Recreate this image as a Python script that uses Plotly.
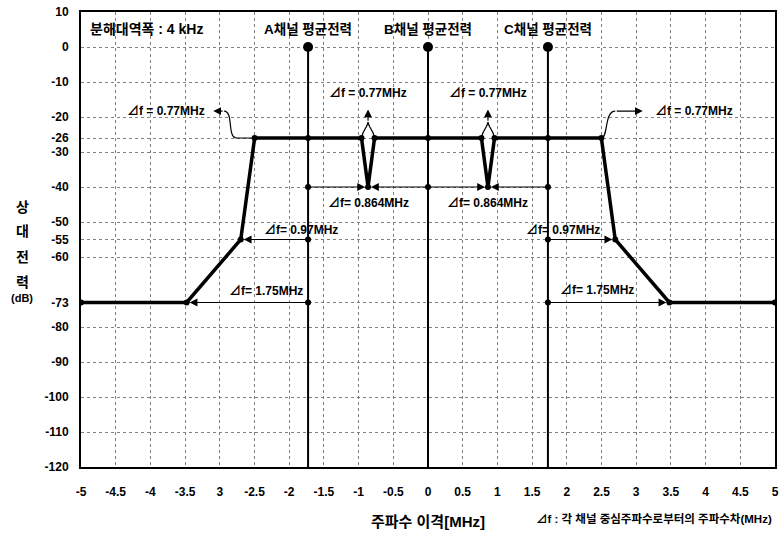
import plotly.graph_objects as go

# Channel centre frequencies, offset from channel B (MHz)
channel_names = ["A", "B", "C"]
channel_centres = [-1.728, 0.0, 1.728]
channel_power_db = 0

# Mask levels, dB relative to the channel mean power
plateau_db = -26
notch_db = -40
shoulder_db = -55
floor_db = -73

# Frequency differences from each channel centre (MHz)
df_edge = 0.77
df_shoulder = 0.97
df_floor = 1.75
df_notch = 0.864

x_span = [-5, 5]
y_span = [-120, 10]
x_ticks = [-5, -4.5, -4, -3.5, -3, -2.5, -2, -1.5, -1, -0.5, 0,
           0.5, 1, 1.5, 2, 2.5, 3, 3.5, 4, 4.5, 5]
x_ticktext = ["-5", "-4.5", "-4", "-3.5", "3", "-2.5", "-2", "-1.5", "-1", "-0.5", "0",
              "0.5", "1", "1.5", "2", "2.5", "3", "3.5", "4", "4.5", "5"]
y_ticks = [10, 0, -10, -20, -26, -30, -40, -50, -55, -60, -73, -80, -90, -100, -110, -120]

FONT = "Liberation Sans, Noto Sans CJK KR, sans-serif"
A, B, C = channel_centres

# Spectrum emission mask polyline
mask_x = [x_span[0], A - df_floor, A - df_shoulder, A - df_edge,
          A + df_edge, A + df_notch, B - df_edge,
          B + df_edge, B + df_notch, C - df_edge,
          C + df_edge, C + df_shoulder, C + df_floor, x_span[1]]
mask_y = [floor_db, floor_db, shoulder_db, plateau_db,
          plateau_db, notch_db, plateau_db,
          plateau_db, notch_db, plateau_db,
          plateau_db, shoulder_db, floor_db, floor_db]

fig = go.Figure()

# channel mean-power stems
for c in channel_centres:
    fig.add_trace(go.Scatter(x=[c, c], y=[y_span[0], channel_power_db], mode="lines",
                             line=dict(color="black", width=2), hoverinfo="skip"))
fig.add_trace(go.Scatter(x=channel_centres, y=[channel_power_db] * 3, mode="markers",
                         marker=dict(color="black", size=10), hoverinfo="skip"))

# mask
fig.add_trace(go.Scatter(x=mask_x, y=mask_y, mode="lines+markers",
                         line=dict(color="black", width=3.5),
                         marker=dict(color="black", size=6), hoverinfo="skip"))

# arrow origin dots on the stems
dot_x = [A, A, A, A, B, B, C, C, C, C]
dot_y = [plateau_db, notch_db, shoulder_db, floor_db, plateau_db, notch_db,
         plateau_db, notch_db, shoulder_db, floor_db]
fig.add_trace(go.Scatter(x=dot_x, y=dot_y, mode="markers",
                         marker=dict(color="black", size=6), hoverinfo="skip"))

annotations = []


def arrow(x_to, y_to, x_from, y_from):
    annotations.append(dict(x=x_to, y=y_to, ax=x_from, ay=y_from, xref="x", yref="y",
                            axref="x", ayref="y", text="", showarrow=True,
                            arrowhead=2, arrowsize=1.3, arrowwidth=1.2,
                            arrowcolor="black", standoff=3))


def label(x, y, text, size=12, xanchor="center", xref="x", yref="y"):
    annotations.append(dict(x=x, y=y, xref=xref, yref=yref, text="<b>" + text + "</b>",
                            showarrow=False, xanchor=xanchor, yanchor="middle",
                            font=dict(family=FONT, size=size, color="black")))


# horizontal Δf arrows
arrow(A + df_notch, notch_db, A, notch_db)
arrow(B - df_notch, notch_db, B, notch_db)
arrow(B + df_notch, notch_db, B, notch_db)
arrow(C - df_notch, notch_db, C, notch_db)
arrow(A - df_shoulder, shoulder_db, A, shoulder_db)
arrow(A - df_floor, floor_db, A, floor_db)
arrow(C + df_shoulder, shoulder_db, C, shoulder_db)
arrow(C + df_floor, floor_db, C, floor_db)

shapes = []
curve = dict(color="black", width=1.2)
tag_db = -18.3

# curved pointers from the outer band edges
le = A - df_edge
shapes.append(dict(type="path", xref="x", yref="y", line=curve,
                   path=f"M {le},{plateau_db} L {le - 0.26},{plateau_db} "
                        f"C {le - 0.40},{plateau_db} {le - 0.30},{tag_db} {le - 0.44},{tag_db}"))
arrow(le - 0.64, tag_db, le - 0.44, tag_db)
re = C + df_edge
shapes.append(dict(type="path", xref="x", yref="y", line=curve,
                   path=f"M {re},{plateau_db} C {re + 0.10},{plateau_db} "
                        f"{re + 0.04},{tag_db} {re + 0.20},{tag_db}"))
arrow(re + 0.64, tag_db, re + 0.20, tag_db)

# converging pointers above the two notches
for lo, hi in [(A + df_edge, B - df_edge), (B + df_edge, C - df_edge)]:
    mid = (lo + hi) / 2
    join = -21.5
    shapes.append(dict(type="path", xref="x", yref="y", line=curve,
                       path=f"M {lo},{plateau_db} C {lo + 0.03},{-23} {mid - 0.03},{-24} {mid},{join}"))
    shapes.append(dict(type="path", xref="x", yref="y", line=curve,
                       path=f"M {hi},{plateau_db} C {hi - 0.03},{-23} {mid + 0.03},{-24} {mid},{join}"))
    arrow(mid, -17.0, mid, join)
    label(mid, -13, f"⊿f = {df_edge}MHz")
    label(mid, -44.7, f"⊿f= {df_notch}MHz")

label(le - 0.68, tag_db, f"⊿f = {df_edge}MHz", xanchor="right")
label(re + 0.74, tag_db, f"⊿f = {df_edge}MHz", xanchor="left")
label(A - 0.10, -52.2, f"⊿f= {df_shoulder}MHz")
label(C + 0.22, -52.2, f"⊿f= {df_shoulder}MHz")
label(A - 0.60, -69.8, f"⊿f= {df_floor}MHz")
label(C + 0.70, -69.3, f"⊿f= {df_floor}MHz")

for name, c in zip(channel_names, channel_centres):
    label(c, 5.0, f"{name}채널 평균전력", size=13.5)
label(-4.9, 5.2, "분해대역폭 : 4 kHz", size=14, xanchor="left")

# vertical y-axis title, one character per line
for ch, yv, sz in zip(["상", "대", "전", "력", "(dB)"], [-45.6, -52.7, -60.1, -67.0, -71.6],
                      [14, 14, 14, 14, 11]):
    label(-0.085, yv, ch, size=sz, xref="paper")

label(0.5, -0.119, "주파수 이격[MHz]", size=15, xref="paper", yref="paper")
label(0.999, -0.114, "⊿f : 각 채널 중심주파수로부터의 주파수차(MHz)", size=11.5,
      xanchor="right", xref="paper", yref="paper")

fig.update_layout(
    width=784, height=536,
    margin=dict(l=81, r=5, t=12, b=69),
    paper_bgcolor="white", plot_bgcolor="white",
    showlegend=False,
    annotations=annotations, shapes=shapes,
    font=dict(family=FONT, color="black"),
    xaxis=dict(range=x_span, tickvals=x_ticks, ticktext=[f"<b>{t}</b>" for t in x_ticktext],
               tickfont=dict(size=12), showgrid=True, gridcolor="#808080", griddash="dot",
               gridwidth=1, zeroline=False, showline=True, linecolor="black", linewidth=2,
               mirror=True, ticks="", ticklabelstandoff=13),
    yaxis=dict(range=y_span, tickvals=y_ticks, ticktext=[f"<b>{t}</b>" for t in y_ticks],
               tickfont=dict(size=12), showgrid=True, gridcolor="#808080", griddash="dot",
               gridwidth=1, zeroline=False, showline=True, linecolor="black", linewidth=2,
               mirror=True, ticks="", ticklabelstandoff=8),
)

fig.write_html("out.html")
